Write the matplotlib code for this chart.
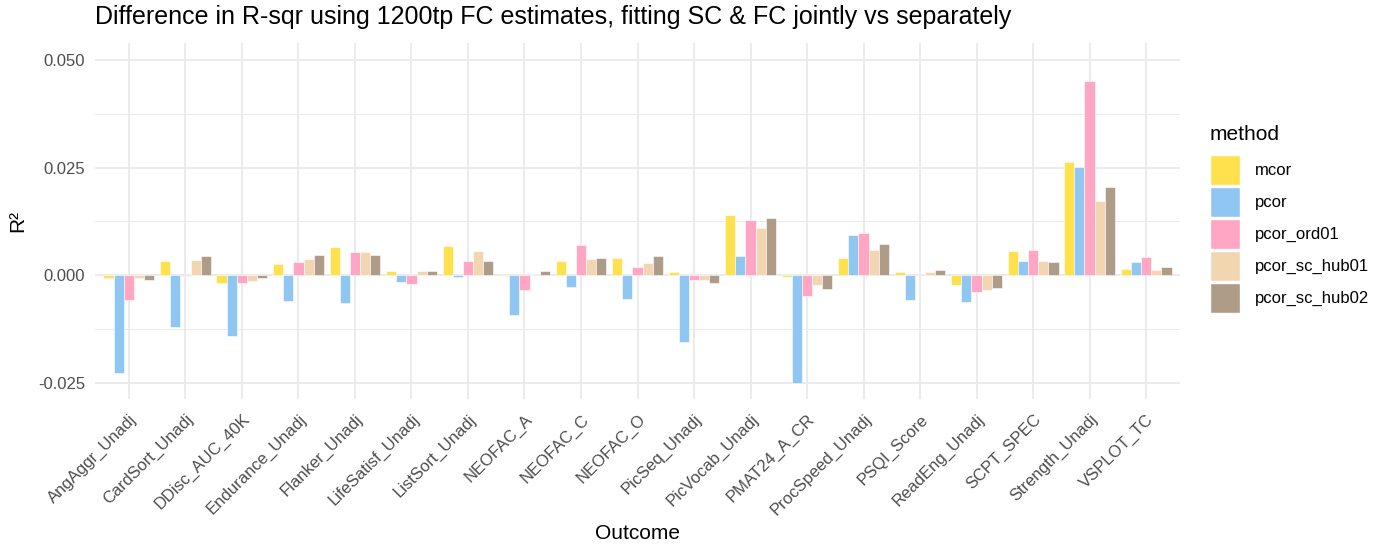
import matplotlib.pyplot as plt
import numpy as np
from matplotlib.patches import Patch
from matplotlib.ticker import MultipleLocator

plt.rcParams['font.family'] = ['Liberation Sans', 'DejaVu Sans']

outcomes = ['AngAggr_Unadj', 'CardSort_Unadj', 'DDisc_AUC_40K', 'Endurance_Unadj',
            'Flanker_Unadj', 'LifeSatisf_Unadj', 'ListSort_Unadj', 'NEOFAC_A',
            'NEOFAC_C', 'NEOFAC_O', 'PicSeq_Unadj', 'PicVocab_Unadj', 'PMAT24_A_CR',
            'ProcSpeed_Unadj', 'PSQI_Score', 'ReadEng_Unadj', 'SCPT_SPEC',
            'Strength_Unadj', 'VSPLOT_TC']
methods = ['mcor', 'pcor', 'pcor_ord01', 'pcor_sc_hub01', 'pcor_sc_hub02']
colors = ['#FFE14D', '#8FC6F2', '#FFA6C4', '#F2D5B1', '#AE9C88']

mcor = [-0.0007, 0.0033, -0.0019, 0.0027, 0.0066, 0.0010, 0.0067, -0.0001, 0.0034,
        0.0041, 0.0008, 0.0140, -0.0005, 0.0040, 0.0008, -0.0022, 0.0056, 0.0264, 0.0015]
pcor = [-0.0226, -0.0121, -0.0141, -0.0059, -0.0065, -0.0016, -0.0004, -0.0091, -0.0028,
        -0.0056, -0.0154, 0.0045, -0.0250, 0.0094, -0.0057, -0.0063, 0.0034, 0.0252, 0.0031]
pcor_ord01 = [-0.0057, -0.0001, -0.0019, 0.0032, 0.0054, -0.0021, 0.0034, -0.0035, 0.0071,
              0.0020, -0.0010, 0.0128, -0.0049, 0.0098, 0.0003, -0.0038, 0.0058, 0.0450, 0.0042]
pcor_sc_hub01 = [-0.0007, 0.0035, -0.0014, 0.0037, 0.0055, 0.0010, 0.0057, 0.0004, 0.0037,
                 0.0029, -0.0010, 0.0110, -0.0022, 0.0058, 0.0007, -0.0035, 0.0033, 0.0172, 0.0012]
pcor_sc_hub02 = [-0.0010, 0.0045, -0.0007, 0.0048, 0.0048, 0.0010, 0.0034, 0.0011, 0.0039,
                 0.0045, -0.0017, 0.0132, -0.0031, 0.0072, 0.0012, -0.0030, 0.0031, 0.0205, 0.0019]
series = [mcor, pcor, pcor_ord01, pcor_sc_hub01, pcor_sc_hub02]

fig = plt.figure(figsize=(13.9, 5.46), dpi=100)
ax = fig.add_axes([95 / 1390, 1 - 399 / 546, (1180 - 95) / 1390, (399 - 43) / 546])

x = np.arange(len(outcomes))
w = 0.9 / len(methods)
for i, (vals, c) in enumerate(zip(series, colors)):
    ax.bar(x - 0.45 + w * (i + 0.5), vals, width=w, color=c, edgecolor='white',
           linewidth=0.4, zorder=3)

ax.set_xlim(-0.6, len(outcomes) - 0.4)
ax.set_ylim(-0.0287, 0.0539)
ax.set_xticks(x)
ax.set_xticklabels(outcomes, rotation=45, ha='right', rotation_mode='anchor',
                   fontsize=12, color='#4D4D4D')
ax.yaxis.set_minor_locator(MultipleLocator(0.0125))
ax.set_yticks([-0.025, 0.0, 0.025, 0.05])
ax.set_yticklabels(['-0.025', '0.000', '0.025', '0.050'], fontsize=12, color='#4D4D4D')
ax.tick_params(which='both', length=0)
ax.tick_params(axis='y', pad=7)
ax.tick_params(axis='x', pad=9)

ax.grid(which='major', color='#EBEBEB', linewidth=1.4, zorder=0)
ax.grid(which='minor', axis='y', color='#EBEBEB', linewidth=0.7, zorder=0)
ax.set_axisbelow(True)
for s in ax.spines.values():
    s.set_visible(False)

ax.set_xlabel('Outcome', fontsize=15, labelpad=4)
ax.set_ylabel('R²', fontsize=15, labelpad=8)
ax.set_title('Difference in R-sqr using 1200tp FC estimates, fitting SC & FC jointly vs separately',
             fontsize=18, loc='left', x=0.0, pad=14)

handles = [Patch(facecolor=c, edgecolor='white', label=m) for m, c in zip(methods, colors)]
leg = fig.legend(handles=handles, title='method', loc='upper left',
                 bbox_to_anchor=(1203 / 1390, 1 - 118 / 546), frameon=False,
                 fontsize=12, title_fontsize=15, handlelength=1.8, handleheight=2.4,
                 labelspacing=0.12, handletextpad=0.9, borderaxespad=0)
leg._legend_box.align = 'left'
leg._legend_box.sep = 8

fig.savefig('out.png', dpi=100)
